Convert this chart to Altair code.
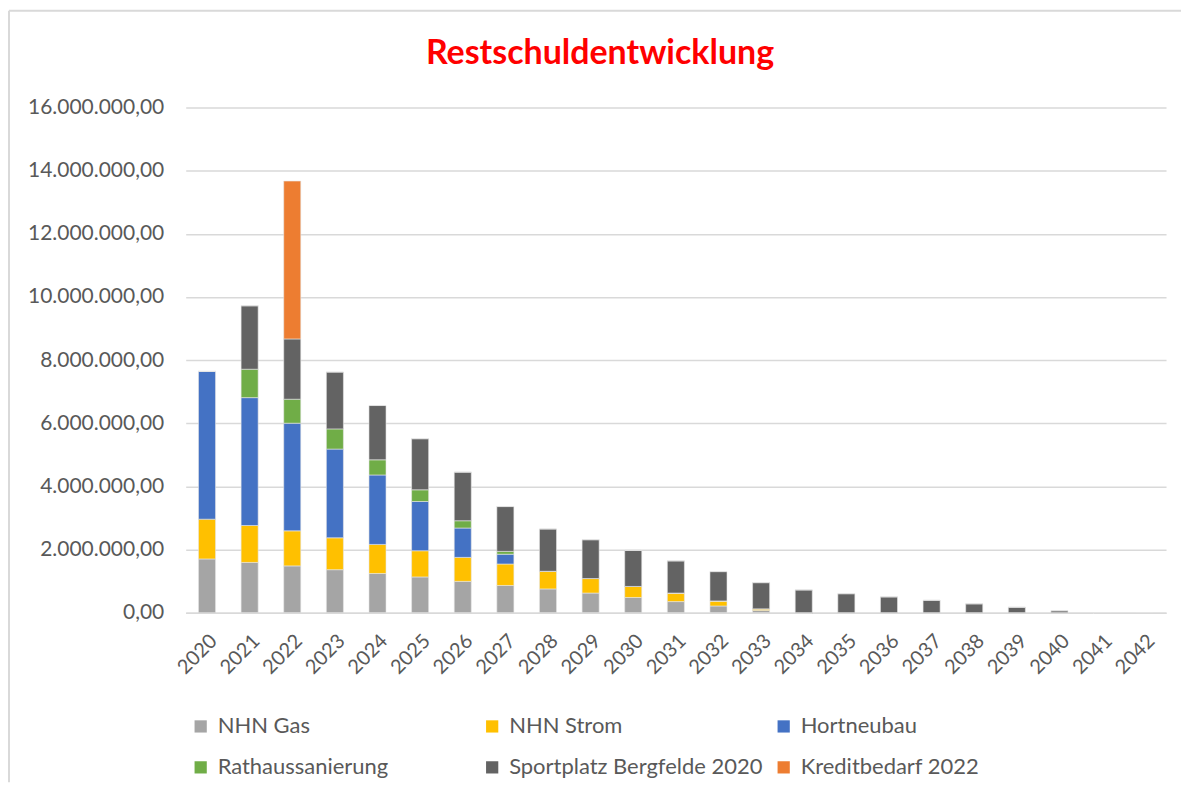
import altair as alt
import pandas as pd

years = [str(y) for y in range(2020, 2043)]

series_names = ["NHN Gas", "NHN Strom", "Hortneubau", "Rathaussanierung",
                "Sportplatz Bergfelde 2020", "Kreditbedarf 2022"]
colors = ["#A5A5A5", "#FFC000", "#4472C4", "#70AD47", "#636363", "#ED7D31"]

nhn_gas = [1700000, 1590000, 1480000, 1360000, 1240000, 1130000, 990000, 860000,
           750000, 620000, 480000, 350000, 210000, 70000, 0, 0, 0, 0, 0, 0, 0, 0, 0]
nhn_strom = [1260000, 1170000, 1110000, 1010000, 920000, 830000, 760000, 680000,
             560000, 460000, 350000, 270000, 160000, 50000, 0, 0, 0, 0, 0, 0, 0, 0, 0]
hortneubau = [4680000, 4050000, 3410000, 2810000, 2200000, 1560000, 930000, 310000,
              0, 0, 0, 0, 0, 0, 0, 0, 0, 0, 0, 0, 0, 0, 0]
rathaus = [0, 900000, 760000, 640000, 480000, 370000, 230000, 90000,
           0, 0, 0, 0, 0, 0, 0, 0, 0, 0, 0, 0, 0, 0, 0]
sportplatz = [0, 2010000, 1910000, 1800000, 1720000, 1620000, 1540000, 1420000,
              1340000, 1230000, 1140000, 1020000, 930000, 830000, 720000, 600000,
              500000, 390000, 280000, 170000, 60000, 0, 0]
kredit = [0, 0, 5000000, 0, 0, 0, 0, 0, 0, 0, 0, 0, 0, 0, 0, 0, 0, 0, 0, 0, 0, 0, 0]

y_ticks = [0, 2000000, 4000000, 6000000, 8000000, 10000000, 12000000, 14000000, 16000000]

all_series = [nhn_gas, nhn_strom, hortneubau, rathaus, sportplatz, kredit]
rows = []
for si, (name, vals) in enumerate(zip(series_names, all_series)):
    for yr, v in zip(years, vals):
        rows.append({"Jahr": yr, "Serie": name, "Wert": v, "ord": si})
df = pd.DataFrame(rows)

FONT = "Lato"
TXT = "#595959"

bars = alt.Chart(df).mark_bar(stroke="#E6E6E6", strokeWidth=0.6).encode(
    x=alt.X("Jahr:N", sort=years,
            scale=alt.Scale(paddingInner=0.6, paddingOuter=0.3),
            axis=alt.Axis(title=None, labelAngle=-45, labelFontSize=20,
                          labelColor=TXT, labelFont=FONT, ticks=False,
                          domainColor="#D9D9D9", domainWidth=1.5, labelPadding=18)),
    y=alt.Y("Wert:Q", stack="zero",
            scale=alt.Scale(domain=[0, 16000000], nice=False),
            axis=alt.Axis(title=None, values=y_ticks, format=",.2f",
                          labelFontSize=21, labelColor=TXT, labelFont=FONT,
                          ticks=False, domain=False, labelPadding=22,
                          gridColor="#D9D9D9", gridWidth=1.5)),
    color=alt.Color("Serie:N", sort=series_names,
                    scale=alt.Scale(domain=series_names, range=colors),
                    legend=alt.Legend(title=None, orient="none", legendX=4, legendY=609,
                                      direction="horizontal", columns=3,
                                      gridAlign="all", columnPadding=10, rowPadding=19,
                                      symbolType="square", symbolSize=150,
                                      symbolStrokeWidth=0, labelFontSize=22,
                                      labelColor=TXT, labelFont=FONT, labelOffset=6,
                                      labelLimit=400)),
    order=alt.Order("ord:Q", sort="ascending"),
)

frame_df = pd.DataFrame({"f": [0]})
top_edge = alt.Chart(frame_df).mark_rule(stroke="#D9D9D9", strokeWidth=2).encode(
    x=alt.value(-177), x2=alt.value(997), y=alt.value(-97))
left_edge = alt.Chart(frame_df).mark_rule(stroke="#D9D9D9", strokeWidth=2).encode(
    x=alt.value(-177), y=alt.value(-97), y2=alt.value(676))

chart = alt.layer(top_edge, left_edge, bars).properties(
    width=982,
    height=506,
    title=alt.TitleParams("Restschuldentwicklung", color="#FF0000", fontSize=34,
                          font=FONT, fontWeight="bold", anchor="middle", offset=-61,
                          dx=-76),
    autosize=alt.AutoSizeParams(type="none"),
    padding={"left": 178, "top": 99, "right": 15, "bottom": 170},
).configure(
    locale=alt.Locale(number=alt.NumberLocale(decimal=",", thousands=".",
                                              grouping=[3], currency=["", " €"]))
).configure_view(stroke=None)

chart.save("out.html", embed_options={"renderer": "svg", "actions": False})
